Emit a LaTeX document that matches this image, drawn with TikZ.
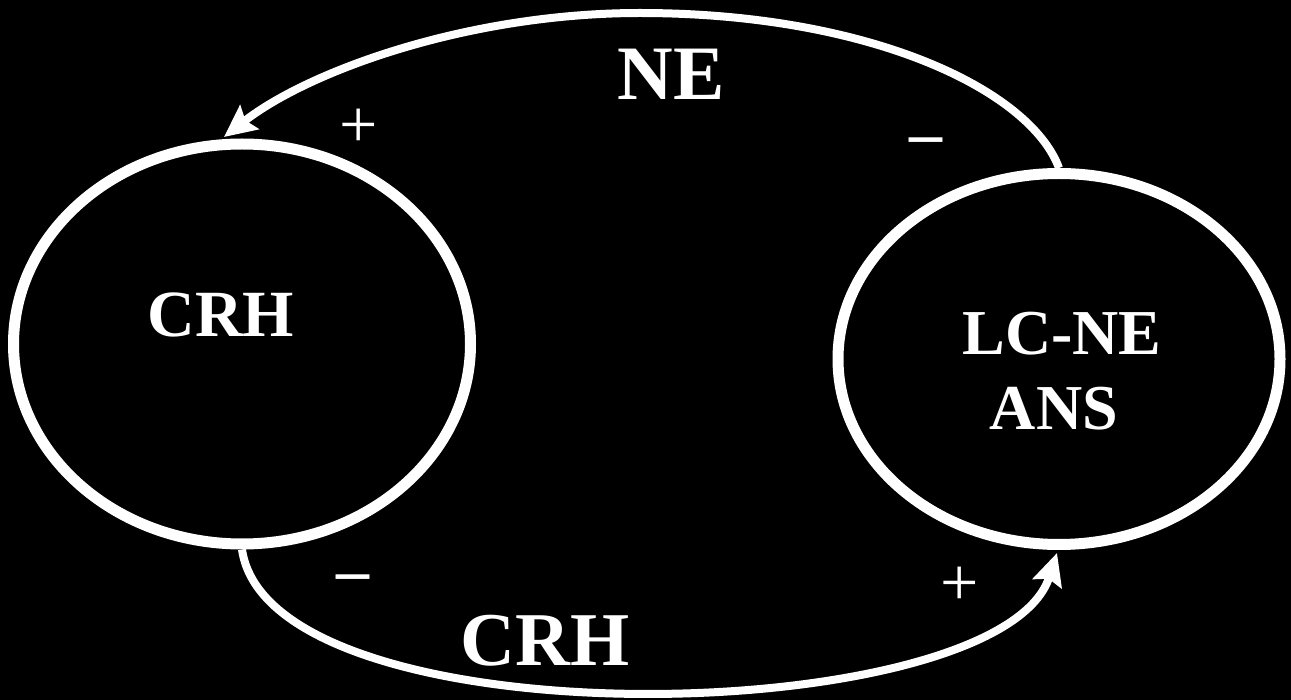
\documentclass[tikz,border=0pt]{standalone}
\usepackage{fontspec}
\setmainfont{Liberation Serif}
\usetikzlibrary{shapes.geometric,arrows.meta}
\begin{document}
\begin{tikzpicture}[x=1pt,y=-1pt,
  ring/.style={draw=white,line width=11pt,ellipse,inner sep=0pt},
  conn/.style={draw=white,line width=8pt,-{Stealth[length=32pt,width=30pt,inset=5pt]}},
  lbl/.style={text=white,font=\bfseries\fontsize{#1}{#1}\selectfont,inner sep=0pt,anchor=base},
  sgn/.style={text=white,font=\fontsize{68}{68}\selectfont,inner sep=0pt}]
\fill[black] (0,0) rectangle (1291,700);
\useasboundingbox (0,0) rectangle (1291,700);
\node[ring,minimum width=457pt,minimum height=400pt] (L) at (242,344) {};
\node[ring,minimum width=442pt,minimum height=371pt] (R) at (1059,359) {};
\coordinate (tipL) at (224,137);
\coordinate (tipR) at (1057,553);
\coordinate (topmid) at (640,13);
\draw[conn] (R.north) .. controls (1030,90) and (870,13) .. (topmid)
  .. controls (470,13) and (310,70) .. (tipL);
\draw[conn] (L.south) .. controls (270,745) and (1000,730) .. (tipR);
\node[lbl=77] (ne) at (671,100) {NE};
\node[lbl=66] (crh1) at (221,337) {CRH};
\node[lbl=64] (lcne) at (1062,355) {LC-NE};
\node[lbl=64] (ans) at (1054,430) {ANS};
\node[lbl=76] (crh2) at (545,665) {CRH};
\node[sgn] (p1) at (359,128) {+};
\node[sgn,font=\bfseries\fontsize{66}{66}\selectfont] (m1) at (926,147) {–};
\node[sgn,font=\bfseries\fontsize{66}{66}\selectfont] (m2) at (353,584) {–};
\node[sgn] (p2) at (960,586) {+};
\end{tikzpicture}
\end{document}
